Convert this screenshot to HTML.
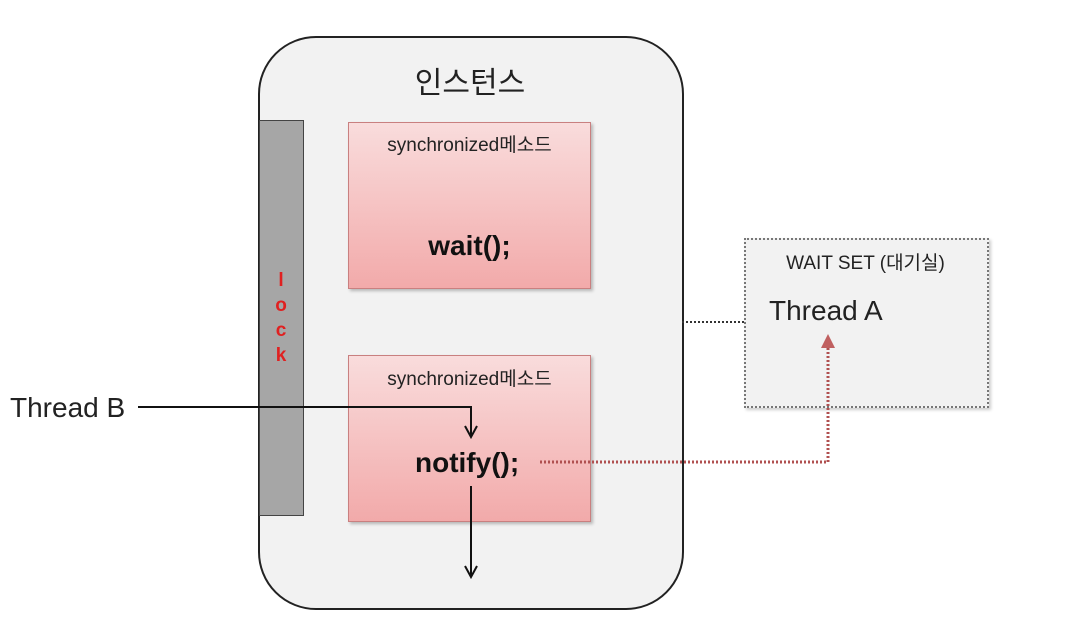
<!DOCTYPE html>
<html><head><meta charset="utf-8"><style>
body{margin:0;background:#fff;width:1084px;height:626px;overflow:hidden;position:relative;font-family:"Liberation Sans","Noto Sans CJK KR",sans-serif}
.a{position:absolute}
.pink{background:linear-gradient(#f9dcdc,#f2aaaa);border:1px solid #c98080;box-shadow:2px 2px 3px rgba(0,0,0,.25)}
</style></head><body>
<div class="a" style="left:258px;top:36px;width:422px;height:570px;border:2px solid #222;border-radius:58px;background:#f2f2f2"></div>
<div class="a" style="left:259px;top:120px;width:43px;height:394px;background:#a6a6a6;border:1px solid #444"></div>
<div class="a" style="left:268px;top:268px;width:26px;text-align:center;color:#e02020;font-weight:bold;font-size:19px;line-height:25px">l<br>o<br>c<br>k</div>
<div class="a" style="left:258px;top:58px;width:424px;text-align:center;font-size:30px;color:#222">인스턴스</div>
<div class="a pink" style="left:348px;top:122px;width:241px;height:165px"></div>
<div class="a" style="left:348px;top:130px;width:243px;text-align:center;font-size:19px;color:#222">synchronized메소드</div>
<div class="a" style="left:348px;top:230px;width:243px;text-align:center;font-size:28px;font-weight:bold;color:#111">wait();</div>
<div class="a pink" style="left:348px;top:355px;width:241px;height:165px"></div>
<div class="a" style="left:348px;top:364px;width:243px;text-align:center;font-size:19px;color:#222">synchronized메소드</div>
<div class="a" style="left:415px;top:447px;font-size:28px;font-weight:bold;color:#111">notify();</div>
<div class="a" style="left:744px;top:238px;width:241px;height:166px;border:2px dotted #777;background:#f2f2f2;box-shadow:2px 2px 3px rgba(0,0,0,.2)"></div>
<div class="a" style="left:744px;top:248px;width:243px;text-align:center;font-size:19px;color:#222">WAIT SET (대기실)</div>
<div class="a" style="left:769px;top:295px;font-size:28px;color:#222">Thread A</div>
<div class="a" style="left:10px;top:392px;font-size:28px;color:#222">Thread B</div>
<svg class="a" style="left:0;top:0" width="1084" height="626">
<line x1="682" y1="322" x2="744" y2="322" stroke="#333" stroke-width="2" stroke-dasharray="2,2"/>
<polyline points="138,407 471,407 471,436" fill="none" stroke="#111" stroke-width="2"/>
<polyline points="465,426 471,437 477,426" fill="none" stroke="#111" stroke-width="2"/>
<line x1="471" y1="486" x2="471" y2="576" stroke="#111" stroke-width="2"/>
<polyline points="465,566 471,577 477,566" fill="none" stroke="#111" stroke-width="2"/>
<polyline points="540,462 828,462 828,338" fill="none" stroke="#b05050" stroke-width="3" stroke-dasharray="2,2"/>
<polygon points="821,348 828,334 835,348" fill="#c06060"/>
</svg>
</body></html>
